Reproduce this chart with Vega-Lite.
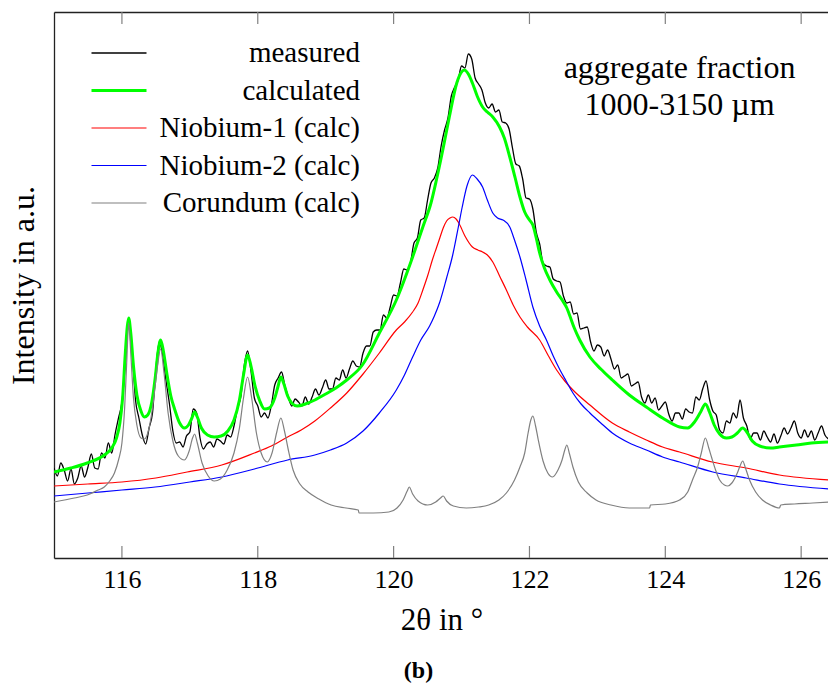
{
"$schema": "https://vega.github.io/schema/vega-lite/v6.json",
"width": 775, "height": 546,
"autosize": {"type": "none"},
"padding": {"left": 54, "top": 12, "right": 0, "bottom": 130},
"background": "white",
"config": {"font": "Liberation Serif", "view": {"stroke": null}},
"title": {"text": "(b)", "orient": "bottom", "fontSize": 24, "fontWeight": "bold", "font": "Liberation Serif", "color": "black", "anchor": "middle", "dx": -23, "offset": 24},
"resolve": {"axis": {"x": "independent", "y": "independent"}},
"layer": [
{
"data": {"values": [
{"s":"measured","x":115.00,"y":90},{"s":"measured","x":115.05,"y":82},{"s":"measured","x":115.10,"y":95},{"s":"measured","x":115.15,"y":88},{"s":"measured","x":115.20,"y":77},{"s":"measured","x":115.25,"y":89},{"s":"measured","x":115.30,"y":74},{"s":"measured","x":115.35,"y":80},{"s":"measured","x":115.40,"y":92},{"s":"measured","x":115.45,"y":81},{"s":"measured","x":115.50,"y":91},{"s":"measured","x":115.55,"y":104},{"s":"measured","x":115.60,"y":90},{"s":"measured","x":115.65,"y":89},{"s":"measured","x":115.70,"y":105},{"s":"measured","x":115.75,"y":100},{"s":"measured","x":115.80,"y":115},{"s":"measured","x":115.85,"y":105},{"s":"measured","x":115.90,"y":124},{"s":"measured","x":115.95,"y":140},{"s":"measured","x":116.00,"y":156},{"s":"measured","x":116.05,"y":194},{"s":"measured","x":116.10,"y":238},{"s":"measured","x":116.15,"y":208},{"s":"measured","x":116.20,"y":158},{"s":"measured","x":116.25,"y":140},{"s":"measured","x":116.30,"y":123},{"s":"measured","x":116.35,"y":114},{"s":"measured","x":116.40,"y":130},{"s":"measured","x":116.45,"y":145},{"s":"measured","x":116.50,"y":189},{"s":"measured","x":116.55,"y":216},{"s":"measured","x":116.60,"y":203},{"s":"measured","x":116.65,"y":177},{"s":"measured","x":116.70,"y":154},{"s":"measured","x":116.75,"y":127},{"s":"measured","x":116.80,"y":115},{"s":"measured","x":116.85,"y":116},{"s":"measured","x":116.90,"y":111},{"s":"measured","x":116.95,"y":122},{"s":"measured","x":117.00,"y":126},{"s":"measured","x":117.05,"y":149},{"s":"measured","x":117.10,"y":145},{"s":"measured","x":117.15,"y":120},{"s":"measured","x":117.20,"y":109},{"s":"measured","x":117.25,"y":114},{"s":"measured","x":117.30,"y":116},{"s":"measured","x":117.35,"y":111},{"s":"measured","x":117.40,"y":119},{"s":"measured","x":117.45,"y":117},{"s":"measured","x":117.50,"y":114},{"s":"measured","x":117.55,"y":123},{"s":"measured","x":117.60,"y":121},{"s":"measured","x":117.65,"y":132},{"s":"measured","x":117.70,"y":149},{"s":"measured","x":117.75,"y":161},{"s":"measured","x":117.80,"y":192},{"s":"measured","x":117.85,"y":207},{"s":"measured","x":117.90,"y":187},{"s":"measured","x":117.95,"y":160},{"s":"measured","x":118.00,"y":152},{"s":"measured","x":118.05,"y":141},{"s":"measured","x":118.10,"y":145},{"s":"measured","x":118.15,"y":140},{"s":"measured","x":118.20,"y":153},{"s":"measured","x":118.25,"y":173},{"s":"measured","x":118.30,"y":180},{"s":"measured","x":118.35,"y":186},{"s":"measured","x":118.40,"y":172},{"s":"measured","x":118.45,"y":161},{"s":"measured","x":118.50,"y":152},{"s":"measured","x":118.55,"y":159},{"s":"measured","x":118.60,"y":156},{"s":"measured","x":118.65,"y":152},{"s":"measured","x":118.70,"y":161},{"s":"measured","x":118.75,"y":154},{"s":"measured","x":118.80,"y":161},{"s":"measured","x":118.85,"y":169},{"s":"measured","x":118.90,"y":163},{"s":"measured","x":118.95,"y":170},{"s":"measured","x":119.00,"y":178},{"s":"measured","x":119.05,"y":169},{"s":"measured","x":119.10,"y":169},{"s":"measured","x":119.15,"y":180},{"s":"measured","x":119.20,"y":178},{"s":"measured","x":119.25,"y":188},{"s":"measured","x":119.30,"y":180},{"s":"measured","x":119.35,"y":189},{"s":"measured","x":119.40,"y":197},{"s":"measured","x":119.45,"y":192},{"s":"measured","x":119.50,"y":191},{"s":"measured","x":119.55,"y":205},{"s":"measured","x":119.60,"y":212},{"s":"measured","x":119.65,"y":212},{"s":"measured","x":119.70,"y":226},{"s":"measured","x":119.75,"y":228},{"s":"measured","x":119.80,"y":228},{"s":"measured","x":119.85,"y":243},{"s":"measured","x":119.90,"y":240},{"s":"measured","x":119.95,"y":251},{"s":"measured","x":120.00,"y":263},{"s":"measured","x":120.05,"y":262},{"s":"measured","x":120.10,"y":275},{"s":"measured","x":120.15,"y":289},{"s":"measured","x":120.20,"y":288},{"s":"measured","x":120.25,"y":296},{"s":"measured","x":120.30,"y":315},{"s":"measured","x":120.35,"y":320},{"s":"measured","x":120.40,"y":338},{"s":"measured","x":120.45,"y":340},{"s":"measured","x":120.50,"y":358},{"s":"measured","x":120.55,"y":375},{"s":"measured","x":120.60,"y":380},{"s":"measured","x":120.65,"y":390},{"s":"measured","x":120.70,"y":412},{"s":"measured","x":120.75,"y":428},{"s":"measured","x":120.80,"y":440},{"s":"measured","x":120.85,"y":462},{"s":"measured","x":120.90,"y":471},{"s":"measured","x":120.95,"y":478},{"s":"measured","x":121.00,"y":492},{"s":"measured","x":121.05,"y":490},{"s":"measured","x":121.10,"y":504},{"s":"measured","x":121.15,"y":499},{"s":"measured","x":121.20,"y":480},{"s":"measured","x":121.25,"y":474},{"s":"measured","x":121.30,"y":468},{"s":"measured","x":121.35,"y":455},{"s":"measured","x":121.40,"y":450},{"s":"measured","x":121.45,"y":454},{"s":"measured","x":121.50,"y":446},{"s":"measured","x":121.55,"y":448},{"s":"measured","x":121.60,"y":436},{"s":"measured","x":121.65,"y":435},{"s":"measured","x":121.70,"y":429},{"s":"measured","x":121.75,"y":410},{"s":"measured","x":121.80,"y":394},{"s":"measured","x":121.85,"y":392},{"s":"measured","x":121.90,"y":379},{"s":"measured","x":121.95,"y":360},{"s":"measured","x":122.00,"y":359},{"s":"measured","x":122.05,"y":349},{"s":"measured","x":122.10,"y":326},{"s":"measured","x":122.15,"y":314},{"s":"measured","x":122.20,"y":295},{"s":"measured","x":122.25,"y":292},{"s":"measured","x":122.30,"y":291},{"s":"measured","x":122.35,"y":279},{"s":"measured","x":122.40,"y":277},{"s":"measured","x":122.45,"y":276},{"s":"measured","x":122.50,"y":262},{"s":"measured","x":122.55,"y":255},{"s":"measured","x":122.60,"y":256},{"s":"measured","x":122.65,"y":244},{"s":"measured","x":122.70,"y":245},{"s":"measured","x":122.75,"y":229},{"s":"measured","x":122.80,"y":230},{"s":"measured","x":122.85,"y":231},{"s":"measured","x":122.90,"y":216},{"s":"measured","x":122.95,"y":207},{"s":"measured","x":123.00,"y":213},{"s":"measured","x":123.05,"y":211},{"s":"measured","x":123.10,"y":202},{"s":"measured","x":123.15,"y":208},{"s":"measured","x":123.20,"y":199},{"s":"measured","x":123.25,"y":189},{"s":"measured","x":123.30,"y":193},{"s":"measured","x":123.35,"y":180},{"s":"measured","x":123.40,"y":182},{"s":"measured","x":123.45,"y":184},{"s":"measured","x":123.50,"y":172},{"s":"measured","x":123.55,"y":174},{"s":"measured","x":123.60,"y":176},{"s":"measured","x":123.65,"y":161},{"s":"measured","x":123.70,"y":155},{"s":"measured","x":123.75,"y":163},{"s":"measured","x":123.80,"y":155},{"s":"measured","x":123.85,"y":160},{"s":"measured","x":123.90,"y":148},{"s":"measured","x":123.95,"y":152},{"s":"measured","x":124.00,"y":156},{"s":"measured","x":124.05,"y":144},{"s":"measured","x":124.10,"y":137},{"s":"measured","x":124.15,"y":145},{"s":"measured","x":124.20,"y":145},{"s":"measured","x":124.25,"y":139},{"s":"measured","x":124.30,"y":149},{"s":"measured","x":124.35,"y":146},{"s":"measured","x":124.40,"y":145},{"s":"measured","x":124.45,"y":161},{"s":"measured","x":124.50,"y":158},{"s":"measured","x":124.55,"y":169},{"s":"measured","x":124.60,"y":177},{"s":"measured","x":124.65,"y":159},{"s":"measured","x":124.70,"y":147},{"s":"measured","x":124.75,"y":143},{"s":"measured","x":124.80,"y":128},{"s":"measured","x":124.85,"y":125},{"s":"measured","x":124.90,"y":137},{"s":"measured","x":124.95,"y":135},{"s":"measured","x":125.00,"y":145},{"s":"measured","x":125.05,"y":140},{"s":"measured","x":125.10,"y":158},{"s":"measured","x":125.15,"y":140},{"s":"measured","x":125.20,"y":132},{"s":"measured","x":125.25,"y":119},{"s":"measured","x":125.30,"y":125},{"s":"measured","x":125.35,"y":125},{"s":"measured","x":125.40,"y":118},{"s":"measured","x":125.45,"y":127},{"s":"measured","x":125.50,"y":121},{"s":"measured","x":125.55,"y":116},{"s":"measured","x":125.60,"y":124},{"s":"measured","x":125.65,"y":115},{"s":"measured","x":125.70,"y":122},{"s":"measured","x":125.75,"y":130},{"s":"measured","x":125.80,"y":124},{"s":"measured","x":125.85,"y":130},{"s":"measured","x":125.90,"y":137},{"s":"measured","x":125.95,"y":125},{"s":"measured","x":126.00,"y":120},{"s":"measured","x":126.05,"y":128},{"s":"measured","x":126.10,"y":121},{"s":"measured","x":126.15,"y":127},{"s":"measured","x":126.20,"y":118},{"s":"measured","x":126.25,"y":125},{"s":"measured","x":126.30,"y":132},{"s":"measured","x":126.35,"y":123},{"s":"measured","x":126.40,"y":119},
{"s":"calculated","x":115.00,"y":86},{"s":"calculated","x":115.25,"y":90},{"s":"calculated","x":115.49,"y":95},{"s":"calculated","x":115.74,"y":103},{"s":"calculated","x":115.85,"y":110},{"s":"calculated","x":115.92,"y":120},{"s":"calculated","x":115.97,"y":135},{"s":"calculated","x":116.01,"y":160},{"s":"calculated","x":116.05,"y":205},{"s":"calculated","x":116.08,"y":232},{"s":"calculated","x":116.10,"y":240},{"s":"calculated","x":116.13,"y":225},{"s":"calculated","x":116.17,"y":192},{"s":"calculated","x":116.22,"y":163},{"s":"calculated","x":116.28,"y":147},{"s":"calculated","x":116.33,"y":141},{"s":"calculated","x":116.38,"y":143},{"s":"calculated","x":116.44,"y":156},{"s":"calculated","x":116.49,"y":180},{"s":"calculated","x":116.53,"y":205},{"s":"calculated","x":116.57,"y":218},{"s":"calculated","x":116.61,"y":207},{"s":"calculated","x":116.66,"y":185},{"s":"calculated","x":116.72,"y":162},{"s":"calculated","x":116.78,"y":148},{"s":"calculated","x":116.85,"y":135},{"s":"calculated","x":116.92,"y":130},{"s":"calculated","x":116.98,"y":133},{"s":"calculated","x":117.03,"y":140},{"s":"calculated","x":117.07,"y":146},{"s":"calculated","x":117.11,"y":141},{"s":"calculated","x":117.17,"y":130},{"s":"calculated","x":117.26,"y":123},{"s":"calculated","x":117.36,"y":121},{"s":"calculated","x":117.46,"y":122},{"s":"calculated","x":117.56,"y":127},{"s":"calculated","x":117.65,"y":138},{"s":"calculated","x":117.73,"y":158},{"s":"calculated","x":117.79,"y":183},{"s":"calculated","x":117.85,"y":203},{"s":"calculated","x":117.90,"y":192},{"s":"calculated","x":117.96,"y":172},{"s":"calculated","x":118.03,"y":157},{"s":"calculated","x":118.10,"y":149},{"s":"calculated","x":118.17,"y":150},{"s":"calculated","x":118.25,"y":160},{"s":"calculated","x":118.30,"y":172},{"s":"calculated","x":118.34,"y":181},{"s":"calculated","x":118.38,"y":175},{"s":"calculated","x":118.44,"y":162},{"s":"calculated","x":118.50,"y":155},{"s":"calculated","x":118.58,"y":152},{"s":"calculated","x":118.70,"y":154},{"s":"calculated","x":118.84,"y":158},{"s":"calculated","x":119.00,"y":164},{"s":"calculated","x":119.15,"y":170},{"s":"calculated","x":119.31,"y":178},{"s":"calculated","x":119.54,"y":193},{"s":"calculated","x":119.79,"y":225},{"s":"calculated","x":120.04,"y":258},{"s":"calculated","x":120.28,"y":301},{"s":"calculated","x":120.43,"y":331},{"s":"calculated","x":120.55,"y":355},{"s":"calculated","x":120.63,"y":378},{"s":"calculated","x":120.73,"y":410},{"s":"calculated","x":120.82,"y":441},{"s":"calculated","x":120.93,"y":475},{"s":"calculated","x":120.99,"y":485},{"s":"calculated","x":121.04,"y":488},{"s":"calculated","x":121.10,"y":484},{"s":"calculated","x":121.16,"y":475},{"s":"calculated","x":121.23,"y":462},{"s":"calculated","x":121.31,"y":451},{"s":"calculated","x":121.38,"y":446},{"s":"calculated","x":121.46,"y":441},{"s":"calculated","x":121.56,"y":431},{"s":"calculated","x":121.63,"y":420},{"s":"calculated","x":121.71,"y":401},{"s":"calculated","x":121.79,"y":380},{"s":"calculated","x":121.86,"y":361},{"s":"calculated","x":121.93,"y":346},{"s":"calculated","x":122.00,"y":338},{"s":"calculated","x":122.05,"y":333},{"s":"calculated","x":122.10,"y":320},{"s":"calculated","x":122.15,"y":305},{"s":"calculated","x":122.22,"y":290},{"s":"calculated","x":122.30,"y":278},{"s":"calculated","x":122.40,"y":266},{"s":"calculated","x":122.49,"y":257},{"s":"calculated","x":122.55,"y":250},{"s":"calculated","x":122.59,"y":243},{"s":"calculated","x":122.66,"y":230},{"s":"calculated","x":122.74,"y":218},{"s":"calculated","x":122.89,"y":201},{"s":"calculated","x":123.05,"y":189},{"s":"calculated","x":123.22,"y":178},{"s":"calculated","x":123.47,"y":163},{"s":"calculated","x":123.72,"y":151},{"s":"calculated","x":123.96,"y":140},{"s":"calculated","x":124.21,"y":131},{"s":"calculated","x":124.33,"y":130},{"s":"calculated","x":124.43,"y":136},{"s":"calculated","x":124.52,"y":146},{"s":"calculated","x":124.59,"y":154},{"s":"calculated","x":124.65,"y":146},{"s":"calculated","x":124.72,"y":133},{"s":"calculated","x":124.80,"y":124},{"s":"calculated","x":124.90,"y":120},{"s":"calculated","x":124.98,"y":121},{"s":"calculated","x":125.06,"y":125},{"s":"calculated","x":125.14,"y":130},{"s":"calculated","x":125.20,"y":126},{"s":"calculated","x":125.28,"y":117},{"s":"calculated","x":125.39,"y":112},{"s":"calculated","x":125.55,"y":110},{"s":"calculated","x":125.68,"y":111},{"s":"calculated","x":125.93,"y":113},{"s":"calculated","x":126.15,"y":115},{"s":"calculated","x":126.41,"y":116},
{"s":"Niobium-1 (calc)","x":115.00,"y":72},{"s":"Niobium-1 (calc)","x":115.50,"y":74},{"s":"Niobium-1 (calc)","x":116.00,"y":76},{"s":"Niobium-1 (calc)","x":116.50,"y":80},{"s":"Niobium-1 (calc)","x":116.96,"y":86},{"s":"Niobium-1 (calc)","x":117.47,"y":93},{"s":"Niobium-1 (calc)","x":117.95,"y":105},{"s":"Niobium-1 (calc)","x":118.20,"y":112},{"s":"Niobium-1 (calc)","x":118.44,"y":121},{"s":"Niobium-1 (calc)","x":118.64,"y":128},{"s":"Niobium-1 (calc)","x":118.84,"y":137},{"s":"Niobium-1 (calc)","x":119.07,"y":150},{"s":"Niobium-1 (calc)","x":119.31,"y":165},{"s":"Niobium-1 (calc)","x":119.55,"y":184},{"s":"Niobium-1 (calc)","x":119.79,"y":205},{"s":"Niobium-1 (calc)","x":120.04,"y":228},{"s":"Niobium-1 (calc)","x":120.16,"y":236},{"s":"Niobium-1 (calc)","x":120.28,"y":246},{"s":"Niobium-1 (calc)","x":120.36,"y":255},{"s":"Niobium-1 (calc)","x":120.43,"y":268},{"s":"Niobium-1 (calc)","x":120.50,"y":282},{"s":"Niobium-1 (calc)","x":120.57,"y":298},{"s":"Niobium-1 (calc)","x":120.63,"y":310},{"s":"Niobium-1 (calc)","x":120.68,"y":320},{"s":"Niobium-1 (calc)","x":120.73,"y":330},{"s":"Niobium-1 (calc)","x":120.78,"y":337},{"s":"Niobium-1 (calc)","x":120.83,"y":340},{"s":"Niobium-1 (calc)","x":120.87,"y":341},{"s":"Niobium-1 (calc)","x":120.92,"y":339},{"s":"Niobium-1 (calc)","x":120.96,"y":335},{"s":"Niobium-1 (calc)","x":121.05,"y":322},{"s":"Niobium-1 (calc)","x":121.16,"y":311},{"s":"Niobium-1 (calc)","x":121.24,"y":308},{"s":"Niobium-1 (calc)","x":121.31,"y":306},{"s":"Niobium-1 (calc)","x":121.38,"y":303},{"s":"Niobium-1 (calc)","x":121.46,"y":296},{"s":"Niobium-1 (calc)","x":121.56,"y":282},{"s":"Niobium-1 (calc)","x":121.66,"y":268},{"s":"Niobium-1 (calc)","x":121.76,"y":253},{"s":"Niobium-1 (calc)","x":121.86,"y":241},{"s":"Niobium-1 (calc)","x":121.97,"y":231},{"s":"Niobium-1 (calc)","x":122.15,"y":218},{"s":"Niobium-1 (calc)","x":122.28,"y":202},{"s":"Niobium-1 (calc)","x":122.40,"y":188},{"s":"Niobium-1 (calc)","x":122.52,"y":177},{"s":"Niobium-1 (calc)","x":122.64,"y":168},{"s":"Niobium-1 (calc)","x":122.89,"y":153},{"s":"Niobium-1 (calc)","x":123.22,"y":135},{"s":"Niobium-1 (calc)","x":123.47,"y":126},{"s":"Niobium-1 (calc)","x":123.72,"y":118},{"s":"Niobium-1 (calc)","x":123.96,"y":111},{"s":"Niobium-1 (calc)","x":124.21,"y":106},{"s":"Niobium-1 (calc)","x":124.69,"y":96},{"s":"Niobium-1 (calc)","x":125.19,"y":90},{"s":"Niobium-1 (calc)","x":125.68,"y":83},{"s":"Niobium-1 (calc)","x":126.41,"y":78},
{"s":"Niobium-2 (calc)","x":115.00,"y":62},{"s":"Niobium-2 (calc)","x":115.50,"y":65},{"s":"Niobium-2 (calc)","x":116.00,"y":68},{"s":"Niobium-2 (calc)","x":116.49,"y":71},{"s":"Niobium-2 (calc)","x":117.00,"y":76},{"s":"Niobium-2 (calc)","x":117.47,"y":81},{"s":"Niobium-2 (calc)","x":117.95,"y":89},{"s":"Niobium-2 (calc)","x":118.44,"y":98},{"s":"Niobium-2 (calc)","x":118.84,"y":103},{"s":"Niobium-2 (calc)","x":119.07,"y":108},{"s":"Niobium-2 (calc)","x":119.31,"y":115},{"s":"Niobium-2 (calc)","x":119.55,"y":127},{"s":"Niobium-2 (calc)","x":119.79,"y":145},{"s":"Niobium-2 (calc)","x":120.04,"y":168},{"s":"Niobium-2 (calc)","x":120.16,"y":183},{"s":"Niobium-2 (calc)","x":120.28,"y":201},{"s":"Niobium-2 (calc)","x":120.40,"y":218},{"s":"Niobium-2 (calc)","x":120.53,"y":232},{"s":"Niobium-2 (calc)","x":120.60,"y":242},{"s":"Niobium-2 (calc)","x":120.68,"y":256},{"s":"Niobium-2 (calc)","x":120.78,"y":280},{"s":"Niobium-2 (calc)","x":120.87,"y":303},{"s":"Niobium-2 (calc)","x":120.95,"y":330},{"s":"Niobium-2 (calc)","x":121.01,"y":351},{"s":"Niobium-2 (calc)","x":121.08,"y":372},{"s":"Niobium-2 (calc)","x":121.16,"y":383},{"s":"Niobium-2 (calc)","x":121.23,"y":379},{"s":"Niobium-2 (calc)","x":121.31,"y":371},{"s":"Niobium-2 (calc)","x":121.38,"y":358},{"s":"Niobium-2 (calc)","x":121.46,"y":345},{"s":"Niobium-2 (calc)","x":121.53,"y":340},{"s":"Niobium-2 (calc)","x":121.61,"y":338},{"s":"Niobium-2 (calc)","x":121.71,"y":331},{"s":"Niobium-2 (calc)","x":121.78,"y":318},{"s":"Niobium-2 (calc)","x":121.86,"y":301},{"s":"Niobium-2 (calc)","x":121.95,"y":278},{"s":"Niobium-2 (calc)","x":122.05,"y":251},{"s":"Niobium-2 (calc)","x":122.15,"y":232},{"s":"Niobium-2 (calc)","x":122.25,"y":218},{"s":"Niobium-2 (calc)","x":122.35,"y":202},{"s":"Niobium-2 (calc)","x":122.45,"y":188},{"s":"Niobium-2 (calc)","x":122.54,"y":177},{"s":"Niobium-2 (calc)","x":122.64,"y":165},{"s":"Niobium-2 (calc)","x":122.76,"y":154},{"s":"Niobium-2 (calc)","x":122.89,"y":145},{"s":"Niobium-2 (calc)","x":123.05,"y":135},{"s":"Niobium-2 (calc)","x":123.22,"y":125},{"s":"Niobium-2 (calc)","x":123.47,"y":115},{"s":"Niobium-2 (calc)","x":123.72,"y":108},{"s":"Niobium-2 (calc)","x":123.96,"y":101},{"s":"Niobium-2 (calc)","x":124.21,"y":96},{"s":"Niobium-2 (calc)","x":124.70,"y":86},{"s":"Niobium-2 (calc)","x":125.19,"y":80},{"s":"Niobium-2 (calc)","x":125.68,"y":74},{"s":"Niobium-2 (calc)","x":126.41,"y":69},
{"s":"Corundum (calc)","x":115.00,"y":56},{"s":"Corundum (calc)","x":115.30,"y":60},{"s":"Corundum (calc)","x":115.49,"y":63},{"s":"Corundum (calc)","x":115.65,"y":68},{"s":"Corundum (calc)","x":115.74,"y":71},{"s":"Corundum (calc)","x":115.82,"y":77},{"s":"Corundum (calc)","x":115.89,"y":85},{"s":"Corundum (calc)","x":115.95,"y":98},{"s":"Corundum (calc)","x":116.00,"y":115},{"s":"Corundum (calc)","x":116.04,"y":150},{"s":"Corundum (calc)","x":116.07,"y":195},{"s":"Corundum (calc)","x":116.10,"y":235},{"s":"Corundum (calc)","x":116.13,"y":205},{"s":"Corundum (calc)","x":116.17,"y":160},{"s":"Corundum (calc)","x":116.22,"y":133},{"s":"Corundum (calc)","x":116.28,"y":120},{"s":"Corundum (calc)","x":116.33,"y":119},{"s":"Corundum (calc)","x":116.40,"y":130},{"s":"Corundum (calc)","x":116.46,"y":155},{"s":"Corundum (calc)","x":116.52,"y":190},{"s":"Corundum (calc)","x":116.57,"y":209},{"s":"Corundum (calc)","x":116.62,"y":185},{"s":"Corundum (calc)","x":116.68,"y":145},{"s":"Corundum (calc)","x":116.75,"y":117},{"s":"Corundum (calc)","x":116.83,"y":102},{"s":"Corundum (calc)","x":116.92,"y":98},{"s":"Corundum (calc)","x":116.99,"y":107},{"s":"Corundum (calc)","x":117.04,"y":120},{"s":"Corundum (calc)","x":117.07,"y":124},{"s":"Corundum (calc)","x":117.11,"y":115},{"s":"Corundum (calc)","x":117.18,"y":95},{"s":"Corundum (calc)","x":117.27,"y":82},{"s":"Corundum (calc)","x":117.36,"y":77},{"s":"Corundum (calc)","x":117.45,"y":79},{"s":"Corundum (calc)","x":117.55,"y":88},{"s":"Corundum (calc)","x":117.65,"y":105},{"s":"Corundum (calc)","x":117.73,"y":130},{"s":"Corundum (calc)","x":117.79,"y":160},{"s":"Corundum (calc)","x":117.85,"y":181},{"s":"Corundum (calc)","x":117.91,"y":160},{"s":"Corundum (calc)","x":117.98,"y":125},{"s":"Corundum (calc)","x":118.05,"y":105},{"s":"Corundum (calc)","x":118.14,"y":96},{"s":"Corundum (calc)","x":118.21,"y":105},{"s":"Corundum (calc)","x":118.28,"y":126},{"s":"Corundum (calc)","x":118.34,"y":140},{"s":"Corundum (calc)","x":118.39,"y":128},{"s":"Corundum (calc)","x":118.45,"y":108},{"s":"Corundum (calc)","x":118.52,"y":88},{"s":"Corundum (calc)","x":118.62,"y":74},{"s":"Corundum (calc)","x":118.74,"y":66},{"s":"Corundum (calc)","x":118.90,"y":59},{"s":"Corundum (calc)","x":119.08,"y":53},{"s":"Corundum (calc)","x":119.30,"y":50},{"s":"Corundum (calc)","x":119.48,"y":48},{"s":"Corundum (calc)","x":119.49,"y":45},{"s":"Corundum (calc)","x":119.70,"y":45},{"s":"Corundum (calc)","x":119.93,"y":46},{"s":"Corundum (calc)","x":120.05,"y":50},{"s":"Corundum (calc)","x":120.14,"y":58},{"s":"Corundum (calc)","x":120.20,"y":67},{"s":"Corundum (calc)","x":120.23,"y":71},{"s":"Corundum (calc)","x":120.28,"y":64},{"s":"Corundum (calc)","x":120.36,"y":57},{"s":"Corundum (calc)","x":120.50,"y":53},{"s":"Corundum (calc)","x":120.62,"y":56},{"s":"Corundum (calc)","x":120.69,"y":60},{"s":"Corundum (calc)","x":120.73,"y":62},{"s":"Corundum (calc)","x":120.78,"y":57},{"s":"Corundum (calc)","x":120.88,"y":52},{"s":"Corundum (calc)","x":121.07,"y":50},{"s":"Corundum (calc)","x":121.25,"y":51},{"s":"Corundum (calc)","x":121.40,"y":53},{"s":"Corundum (calc)","x":121.55,"y":58},{"s":"Corundum (calc)","x":121.66,"y":65},{"s":"Corundum (calc)","x":121.78,"y":78},{"s":"Corundum (calc)","x":121.86,"y":91},{"s":"Corundum (calc)","x":121.93,"y":105},{"s":"Corundum (calc)","x":121.98,"y":125},{"s":"Corundum (calc)","x":122.02,"y":138},{"s":"Corundum (calc)","x":122.05,"y":142},{"s":"Corundum (calc)","x":122.09,"y":132},{"s":"Corundum (calc)","x":122.13,"y":118},{"s":"Corundum (calc)","x":122.20,"y":97},{"s":"Corundum (calc)","x":122.27,"y":85},{"s":"Corundum (calc)","x":122.34,"y":81},{"s":"Corundum (calc)","x":122.42,"y":88},{"s":"Corundum (calc)","x":122.48,"y":98},{"s":"Corundum (calc)","x":122.52,"y":108},{"s":"Corundum (calc)","x":122.55,"y":113},{"s":"Corundum (calc)","x":122.59,"y":104},{"s":"Corundum (calc)","x":122.64,"y":91},{"s":"Corundum (calc)","x":122.72,"y":76},{"s":"Corundum (calc)","x":122.85,"y":65},{"s":"Corundum (calc)","x":122.98,"y":58},{"s":"Corundum (calc)","x":123.20,"y":53},{"s":"Corundum (calc)","x":123.47,"y":50},{"s":"Corundum (calc)","x":123.77,"y":50},{"s":"Corundum (calc)","x":123.78,"y":53},{"s":"Corundum (calc)","x":124.00,"y":54},{"s":"Corundum (calc)","x":124.21,"y":58},{"s":"Corundum (calc)","x":124.33,"y":66},{"s":"Corundum (calc)","x":124.40,"y":78},{"s":"Corundum (calc)","x":124.48,"y":92},{"s":"Corundum (calc)","x":124.53,"y":105},{"s":"Corundum (calc)","x":124.59,"y":120},{"s":"Corundum (calc)","x":124.64,"y":110},{"s":"Corundum (calc)","x":124.68,"y":101},{"s":"Corundum (calc)","x":124.74,"y":88},{"s":"Corundum (calc)","x":124.80,"y":78},{"s":"Corundum (calc)","x":124.87,"y":73},{"s":"Corundum (calc)","x":124.92,"y":72},{"s":"Corundum (calc)","x":124.98,"y":75},{"s":"Corundum (calc)","x":125.06,"y":85},{"s":"Corundum (calc)","x":125.10,"y":92},{"s":"Corundum (calc)","x":125.14,"y":97},{"s":"Corundum (calc)","x":125.18,"y":90},{"s":"Corundum (calc)","x":125.24,"y":78},{"s":"Corundum (calc)","x":125.33,"y":66},{"s":"Corundum (calc)","x":125.43,"y":58},{"s":"Corundum (calc)","x":125.55,"y":53},{"s":"Corundum (calc)","x":125.68,"y":50},{"s":"Corundum (calc)","x":125.70,"y":53},{"s":"Corundum (calc)","x":125.90,"y":54},{"s":"Corundum (calc)","x":126.17,"y":55},{"s":"Corundum (calc)","x":126.41,"y":56}
]},
"mark": {"type": "line", "interpolate": "monotone", "clip": true},
"encoding": {
"x": {"field": "x", "type": "quantitative", "scale": {"domain": [115, 126.41], "nice": false, "zero": false},
 "axis": {"title": "2θ in °", "values": [116,118,120,122,124,126], "ticks": false, "domainColor": "#222222", "domainWidth": 1.3, "labelFontSize": 26, "labelPadding": 8, "labelColor": "black", "labelFont": "Liberation Serif", "labelFlush": false, "titleFontSize": 31, "titleFont": "Liberation Serif", "titleFontWeight": "normal", "titleColor": "black", "titlePadding": 13, "grid": false}},
"y": {"field": "y", "type": "quantitative", "scale": {"domain": [0, 546], "nice": false},
 "axis": {"title": "Intensity in a.u.", "ticks": false, "labels": false, "domainColor": "#222222", "domainWidth": 1.3, "titleFontSize": 32, "titleFont": "Liberation Serif", "titleFontWeight": "normal", "titleColor": "black", "titlePadding": 14, "grid": false}},
"color": {"field": "s", "type": "nominal",
 "scale": {"domain": ["measured","calculated","Niobium-1 (calc)","Niobium-2 (calc)","Corundum (calc)"], "range": ["#000000","#00ff00","#ff0000","#0000ff","#808080"]},
 "legend": {"title": null, "orient": "none", "legendX": 36, "legendY": 26, "symbolType": "stroke", "symbolSize": 3025, "labelFontSize": 29, "labelFont": "Liberation Serif", "labelColor": "black", "labelAlign": "right", "labelOffset": 212, "labelLimit": 400, "clipHeight": 30, "rowPadding": 7.5, "padding": 0,
  "encode": {"symbols": {"update": {"strokeWidth": {"signal": "datum.value === 'calculated' ? 3 : (datum.value === 'measured' ? 1.3 : 1.2)"}}}}}},
"strokeWidth": {"field": "s", "type": "nominal",
 "scale": {"type": "ordinal", "domain": ["measured","calculated","Niobium-1 (calc)","Niobium-2 (calc)","Corundum (calc)"], "range": [1.3, 3, 1.2, 1.2, 1.2]},
 "legend": null}
}
},
{
"data": {"values": [{"label": "annotation"}]},
"mark": {"type": "text", "fontSize": 32, "lineHeight": 37, "align": "center", "baseline": "middle", "font": "Liberation Serif", "color": "black"},
"encoding": {
"x": {"datum": 124.21, "type": "quantitative", "axis": {"orient": "top", "labels": false, "ticks": false, "title": null, "domainColor": "#222222", "domainWidth": 1.3, "grid": false}},
"y": {"datum": 490, "type": "quantitative", "axis": null},
"text": {"value": ["aggregate fraction", "1000-3150 µm"]}
}
},
{
"data": {"values": [{"t": 116},{"t": 118},{"t": 120},{"t": 122},{"t": 124},{"t": 126}]},
"mark": {"type": "rule", "color": "#808080", "strokeWidth": 1.2},
"encoding": {
"x": {"field": "t", "type": "quantitative", "axis": null},
"y": {"datum": 0, "type": "quantitative", "axis": null},
"y2": {"datum": 12}
}
},
{
"data": {"values": [{"t": 116},{"t": 118},{"t": 120},{"t": 122},{"t": 124},{"t": 126}]},
"mark": {"type": "rule", "color": "#808080", "strokeWidth": 1.2},
"encoding": {
"x": {"field": "t", "type": "quantitative", "axis": null},
"y": {"datum": 534, "type": "quantitative", "axis": null},
"y2": {"datum": 546}
}
}
]
}
